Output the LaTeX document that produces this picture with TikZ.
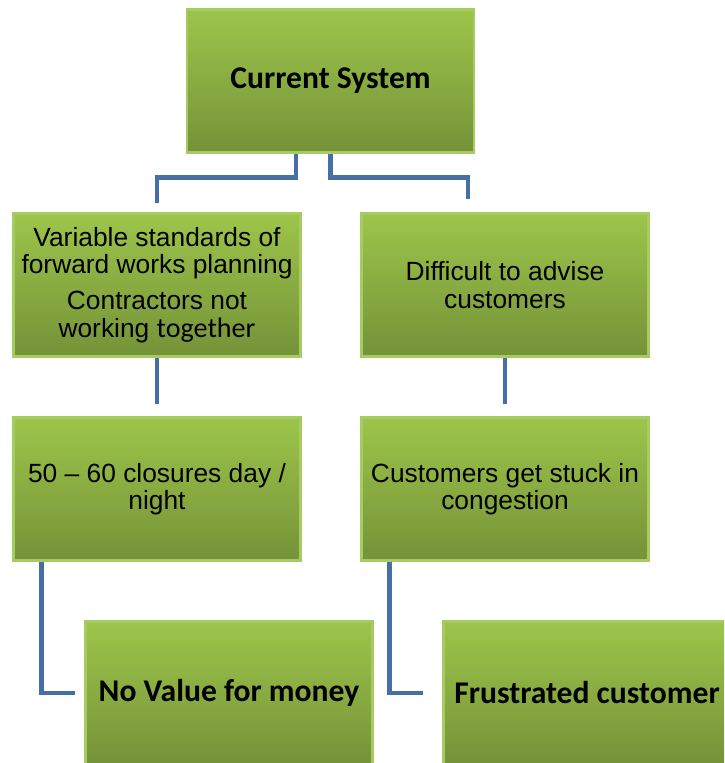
\documentclass[tikz,border=0pt]{standalone}
\usepackage{fontspec}
\setmainfont{Liberation Sans}
\newfontfamily\calibri{Carlito}
\usetikzlibrary{positioning}

\definecolor{boxtop}{RGB}{157,197,74}
\definecolor{boxbottom}{RGB}{117,146,56}
\definecolor{boxedge}{RGB}{165,203,98}
\definecolor{linkblue}{RGB}{70,111,165}

\tikzset{
  box/.style={rectangle, draw=boxedge, line width=1.2pt,
    top color=boxtop, bottom color=boxbottom,
    minimum width=5.74cm, minimum height=2.86cm, align=center,
    font=\fontsize{15}{15.5}\selectfont},
  headbox/.style={box, font=\calibri\bfseries\fontsize{18}{20}\selectfont},
  link/.style={draw=linkblue, line width=2.8pt}
}

\begin{document}
\begin{tikzpicture}[x=0.02cm, y=-0.02cm]

    % 1. Frame of the picture
    \useasboundingbox (0,0) rectangle (724,763);
    \clip (0,0) rectangle (724,763);

    % 2. Boxes
    \node[headbox] (top) at (330.5,81) {Current System};
    \node[box] (L1) at (157,285) {Variable standards of\\forward works planning\\[5pt]
      Contractors not\\working {\calibri\fontsize{16}{15.5}\selectfont together}};
    \node[box] (R1) at (505,285) {Difficult to advise\\customers};
    \node[box] (L2) at (157,489) {50 -- 60 closures day /\\night};
    \node[box] (R2) at (505,489) {Customers get stuck in\\congestion};
    \node[headbox] (L3) at (229,693) {No Value for money};
    \node[headbox] (R3) at (587,693) {Frustrated customer};

    % 3. Free ends of the connectors
    \coordinate (e1) at ([yshift=0.18cm]L1.north);
    \coordinate (e2) at ([xshift=-0.74cm, yshift=0.26cm]R1.north);
    \coordinate (e3) at ([yshift=0.24cm]L2.north);
    \coordinate (e4) at ([yshift=0.24cm]R2.north);
    \coordinate (e5) at ([xshift=-0.18cm]L3.west);
    \coordinate (e6) at ([xshift=-0.38cm]R3.west);

    % 4. Connectors
    \draw[link] ([xshift=-0.69cm]top.south) -- ++(0,24) -| (e1);
    \draw[link] (top.south) -- ++(0,24) -| (e2);
    \draw[link] (L1.south -| e1) -- (e3);
    \draw[link] (R1.south) -- (e4);
    \draw[link] ([xshift=0.58cm]L2.south west) |- (e5);
    \draw[link] ([xshift=0.58cm]R2.south west) |- (e6);

\end{tikzpicture}
\end{document}
